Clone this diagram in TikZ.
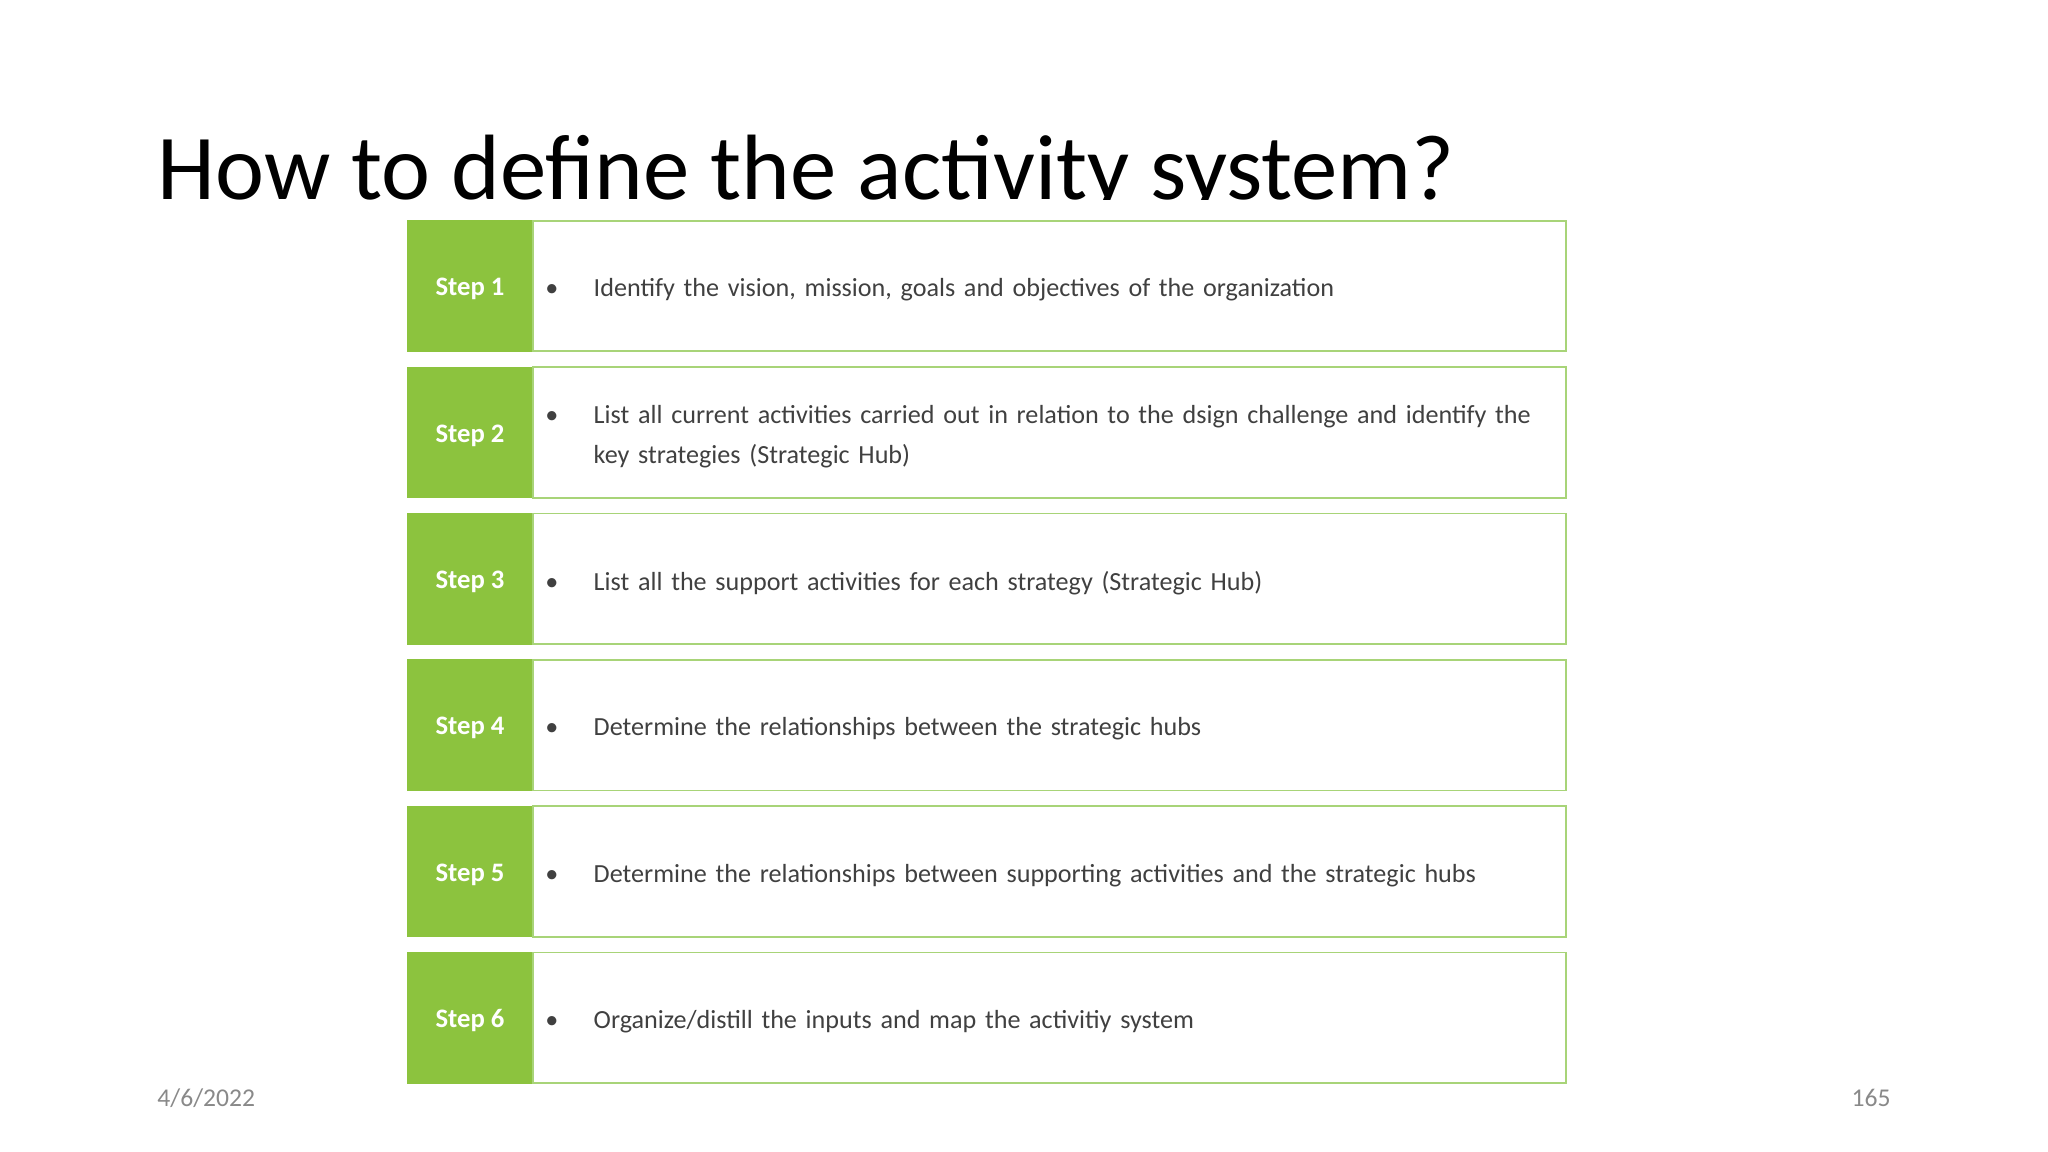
\documentclass[tikz,border=0pt]{standalone}
\usepackage{fontspec}
\setmainfont{Carlito}
\usetikzlibrary{positioning}

\definecolor{stepgreen}{RGB}{140,195,62}
\definecolor{rimgreen}{RGB}{168,212,120}
\definecolor{bodygray}{RGB}{64,64,64}
\definecolor{footgray}{RGB}{137,137,137}

\newcommand{\stepitem}[1]{\noindent\raisebox{-1.9pt}[\height][\depth]{%
  \makebox[19.7pt][l]{\hspace{-3pt}\textbullet}%
  \parbox[t]{446pt}{\raggedright #1}}}

\tikzset{
  stepbox/.style = {fill=stepgreen, draw=stepgreen, text=white, inner sep=0pt,
    minimum width=58.2pt, minimum height=61.2pt, text height=9pt, text depth=0pt,
    font=\fontsize{12.5}{15}\selectfont\bfseries},
  descbox/.style = {draw=rimgreen, line width=0.8pt, text=bodygray, inner xsep=8.6pt,
    inner ysep=0pt, text width=467pt, minimum height=61.2pt,
    font=\fontsize{12.25}{19}\selectfont},
  titletext/.style = {inner sep=0pt, font=\fontsize{43.5}{50}\selectfont},
  foottext/.style = {inner sep=0pt, text=footgray, font=\fontsize{12}{14}\selectfont}
}

\begin{document}
\begin{tikzpicture}[x=1pt, y=1pt, node distance=7pt]
\useasboundingbox (0,0) rectangle (960,540);

\node [titletext, anchor=base west] (title) at (73.8,446.5) {How to define the activity system?};
% the step table sits over the title descenders
\fill [white] (185,436.6) rectangle (740,446.3);

\node [stepbox, anchor=west] (s1) at (191,405.9) {Step 1};
\node [stepbox, below=of s1] (s2) {Step 2};
\node [stepbox, below=of s2] (s3) {Step 3};
\node [stepbox, below=of s3] (s4) {Step 4};
\node [stepbox, below=of s4] (s5) {Step 5};
\node [stepbox, below=of s5] (s6) {Step 6};

\node [descbox, right=0pt of s1] (d1) {\stepitem{Identify the vision, mission, goals and objectives of the organization}};
\node [descbox, right=0pt of s2] (d2) {\stepitem{List all current activities carried out in relation to the dsign challenge and identify the\\ key strategies (Strategic Hub)}};
\node [descbox, right=0pt of s3] (d3) {\stepitem{List all the support activities for each strategy (Strategic Hub)}};
\node [descbox, right=0pt of s4] (d4) {\stepitem{Determine the relationships between the strategic hubs}};
\node [descbox, right=0pt of s5] (d5) {\stepitem{Determine the relationships between supporting activities and the strategic hubs}};
\node [descbox, right=0pt of s6] (d6) {\stepitem{Organize/distill the inputs and map the activitiy system}};

\node [foottext, anchor=west] (date) at (73.6,25.3) {4/6/2022};
\node [foottext, anchor=east] (page) at (886.4,25.3) {165};
\end{tikzpicture}
\end{document}
